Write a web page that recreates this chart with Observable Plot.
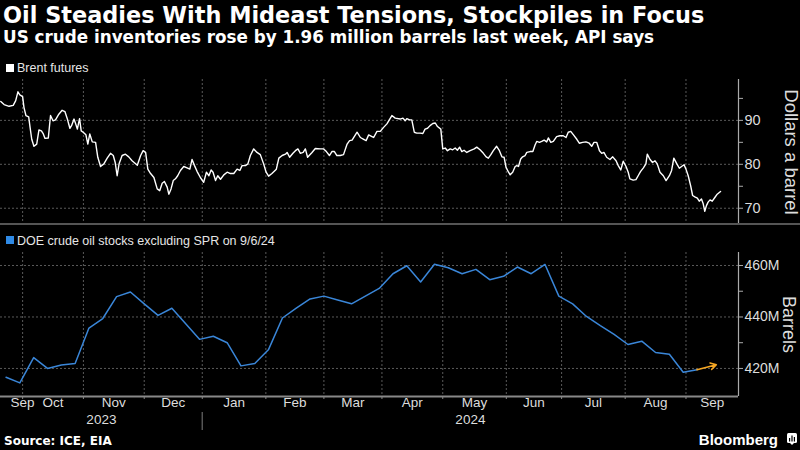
<!DOCTYPE html>
<html><head><meta charset="utf-8">
<script src="https://cdn.jsdelivr.net/npm/d3@7"></script>
<script src="https://cdn.jsdelivr.net/npm/@observablehq/plot@0.6"></script>
<style>
html,body{margin:0;padding:0;background:#000;}
body{width:800px;height:450px;position:relative;overflow:hidden;font-family:"Liberation Sans",Arial,sans-serif;color:#fff;}
.abs{position:absolute;white-space:nowrap;}
#title{left:3px;top:0px;font:bold 22.4px "DejaVu Sans",sans-serif;line-height:30px;color:#fff;}
#subtitle{left:3px;top:27px;font:bold 16.8px "DejaVu Sans",sans-serif;line-height:20px;color:#fff;}
.leg{left:17px;font:12.5px "Liberation Sans",Arial,sans-serif;line-height:14px;color:#e6e6e6;}
.sq{width:8px;height:8px;left:6px;}
#sep{left:0;top:223px;width:800px;height:2px;background:#555;}
#source{left:4px;top:434px;font:bold 12px "DejaVu Sans",sans-serif;line-height:14px;color:#fff;}
#bbg{right:22px;top:431px;font:bold 15px "Liberation Sans",Arial,sans-serif;line-height:17px;color:#fff;}
#icon{left:787px;top:433px;}
</style></head>
<body>
<div id="title" class="abs">Oil Steadies With Mideast Tensions, Stockpiles in Focus</div>
<div id="subtitle" class="abs">US crude inventories rose by 1.96 million barrels last week, API says</div>
<div class="abs sq" style="top:64px;background:#fff"></div>
<div id="leg1" class="abs leg" style="top:61px">Brent futures</div>
<div id="panelTop" class="abs" style="left:0;top:76px"></div>
<div id="sep" class="abs"></div>
<div class="abs sq" style="top:236px;background:#2f8ae6"></div>
<div id="leg2" class="abs leg" style="top:234px">DOE crude oil stocks excluding SPR on 9/6/24</div>
<div id="panelBottom" class="abs" style="left:0;top:249px"></div>
<div id="source" class="abs">Source: ICE, EIA</div>
<div id="bbg" class="abs">Bloomberg</div>
<svg id="icon" class="abs" width="10" height="12" viewBox="0 0 10 12"><rect x="0" y="0" width="10" height="10" rx="1.5" fill="#fff"/><path d="M3 10 L5 12 L7 10Z" fill="#fff"/><rect x="2" y="5" width="1.2" height="3.5" fill="#000"/><rect x="4.4" y="2.5" width="1.2" height="6" fill="#000"/><rect x="6.8" y="4" width="1.2" height="4.5" fill="#000"/></svg>
<script>
// ---------- DATA ----------
// Brent futures: trading days after 2023-09-18 (Mon) and price in $/bbl
const brentDay = [2.1,3.3,5.1,6.6,7.5,8.3,9.0,10.0,10.5,11.2,12.2,12.7,13.3,14.1,15.1,15.9,16.8,17.5,18.1,19.3,20.1,21.0,21.9,23.1,24.3,25.3,26.1,27.1,27.7,28.6,29.2,29.8,30.6,31.2,31.9,32.9,33.6,34.3,35.2,36.4,37.2,38.2,39.4,40.6,41.8,42.8,43.5,44.2,44.9,46.0,47.2,48.4,49.6,51.5,52.7,53.6,54.5,55.3,56.3,57.5,58.7,59.6,60.5,61.3,62.3,62.9,63.7,64.5,65.3,66.1,67.1,68.3,69.5,70.5,71.3,72.2,73.1,74.3,75.5,76.5,77.4,78.2,78.9,79.8,80.6,81.6,82.8,84.0,85.2,86.4,87.6,88.6,89.4,90.6,91.5,92.4,93.6,94.8,96.0,97.2,98.1,99.0,100.2,101.8,102.7,103.9,105.1,105.7,106.6,107.8,108.7,109.6,110.5,111.5,112.3,113.1,114.7,115.9,117.7,118.9,119.9,121.0,121.9,122.8,123.7,124.9,126.1,127.4,128.3,129.2,131.0,132.2,133.4,134.3,135.2,136.4,137.0,138.2,139.4,140.6,141.8,143.6,144.8,146.6,147.6,148.4,149.0,150.0,150.8,151.7,152.6,153.8,154.8,155.6,156.5,157.4,158.4,159.3,160.1,161.3,162.0,162.9,163.7,164.7,165.6,166.5,167.3,168.1,168.9,169.7,170.7,171.9,173.4,174.3,175.5,176.7,177.7,178.5,179.4,180.3,181.5,182.5,183.4,184.2,184.9,185.8,186.4,187.3,188.2,188.8,189.4,190.2,190.9,191.8,192.4,193.6,194.6,195.4,196.0,197.0,197.8,198.7,199.6,200.2,201.1,202.0,203.2,204.4,205.6,206.6,207.4,208.3,209.3,210.5,211.4,212.6,213.8,215.0,215.9,216.7,217.7,218.7,219.5,220.3,221.3,222.5,223.5,224.7,225.5,226.4,227.3,228.3,229.1,229.7,230.9,231.9,232.7,233.6,234.6,235.5,236.0,237.0,237.9,238.8,239.6,240.6,241.8,242.8,244.0,244.8,245.6,246.6,247.6,248.4,249.3,250.0,250.8,251.7,252.4,253.2,254.1,254.8,255.6,256.2,256.8,257.4,258.0,258.7,259.5,260.5,261.3,262.5];
const brentPrice = [94.3,93.6,93.2,93.4,94.5,96.5,95.8,95.4,92.9,91.1,90.8,88.4,85.7,84.1,84.6,87.8,87.6,86.9,85.9,86.0,91.1,89.9,90.1,91.4,92.3,92.0,90.5,88.2,88.8,90.3,89.2,88.0,90.4,87.6,87.3,86.7,84.6,86.9,85.1,85.0,81.6,79.5,80.1,81.4,82.5,82.0,80.4,77.4,80.1,82.0,82.3,81.7,80.8,79.8,82.0,83.1,82.7,78.9,77.9,77.0,74.4,74.0,75.7,76.1,74.8,73.2,74.4,76.3,76.7,77.4,78.6,79.5,79.2,78.9,81.1,79.7,78.4,77.0,75.9,78.2,77.4,78.7,78.2,76.3,77.4,76.6,77.6,78.2,77.9,77.9,78.9,78.6,79.7,79.7,80.1,82.0,83.5,82.7,82.2,80.1,78.2,77.3,77.9,78.9,81.4,82.0,82.3,82.7,81.6,82.5,83.1,83.5,82.5,82.7,83.5,81.6,82.7,83.6,83.5,83.5,82.9,82.0,82.9,82.9,82.0,82.0,82.2,84.6,85.4,85.5,87.3,86.1,85.7,85.4,86.7,86.3,86.1,87.5,87.5,88.4,89.2,91.1,90.5,90.3,90.5,89.9,90.4,90.1,90.1,87.3,87.1,87.1,87.0,88.0,88.2,88.8,89.3,89.4,88.6,88.0,83.5,83.7,83.1,83.5,83.3,83.7,83.2,83.9,82.9,83.2,82.7,83.1,83.5,83.9,83.3,82.5,81.7,81.4,82.2,83.1,84.1,83.1,81.7,81.6,79.3,78.2,77.6,78.2,79.5,79.7,79.5,81.2,81.7,82.0,82.7,82.9,82.9,84.4,85.2,85.0,85.2,85.5,85.1,86.0,85.0,85.2,86.3,86.5,86.5,86.1,87.3,87.5,86.7,85.7,84.8,85.0,85.1,84.8,84.1,85.0,85.0,83.1,82.5,82.7,81.6,81.1,81.7,80.8,79.7,78.7,80.7,79.5,78.2,76.7,76.4,76.5,77.4,78.4,79.2,80.1,82.3,81.1,80.4,80.8,80.1,78.2,77.4,76.3,77.4,78.6,81.4,80.2,79.1,79.5,79.9,78.9,77.4,75.1,72.9,72.6,72.3,71.6,72.1,71.1,69.3,70.6,71.4,71.9,71.6,72.5,73.2,73.8];

// DOE crude oil stocks ex-SPR, weekly (week ending Fridays 2023-09-22 .. 2024-09-06), million barrels
const doeFirstWeek = "2023-09-22";
const doeLastWeek = "2024-09-06";
const doeStocks = [416.6,414.4,424.2,420.0,421.3,421.9,435.7,439.4,447.9,449.7,445.1,440.6,443.4,437.4,431.3,432.5,430.0,421.0,421.9,427.4,439.6,443.4,447.0,448.1,446.6,445.1,448.1,451.1,456.8,459.9,453.6,460.5,459.1,456.8,458.5,454.5,455.8,459.4,456.8,460.4,448.1,445.1,440.2,436.6,433.2,429.3,430.6,426.2,425.5,418.5,419.5];
// API reported build (million barrels) and report date
const apiChange = 1.96;
const apiDate = "2024-09-17";

// Axis / tick definitions
const axisStart = "2023-09-20", axisEnd = "2024-09-27";
const monthFirsts = ["2023-09-01","2023-10-01","2023-11-01","2023-12-01","2024-01-01","2024-02-01","2024-03-01","2024-04-01","2024-05-01","2024-06-01","2024-07-01","2024-08-01","2024-09-01","2024-10-01"];
const monthLabels = ["Sep","Oct","Nov","Dec","Jan","Feb","Mar","Apr","May","Jun","Jul","Aug","Sep"];
const yearFirsts = ["2023-01-01","2024-01-01","2025-01-01"];
const yearLabels = ["2023","2024"];
const brentTicks = [70,75,80,85,90,95];
const brentTickLabels = [70,80,90];
const brentYDomain = [66.3, 99.3];
const doeTicks = [420,430,440,450,460];
const doeTickLabels = [420,440,460];
const doeYDomain = [409.1, 465.05];

// ---------- helpers ----------
const parseDay = d3.timeParse("%Y-%m-%d");
const tStart = parseDay("2023-09-18");
function tradingDay(date) {
  let n = 0;
  const d = new Date(tStart.getTime());
  while (d < date) {
    const w = d.getDay();
    if (w !== 0 && w !== 6) n++;
    d.setDate(d.getDate() + 1);
  }
  return n;
}
const xDomain = [tradingDay(parseDay(axisStart)), tradingDay(parseDay(axisEnd))];
const clampX = v => Math.max(xDomain[0], Math.min(xDomain[1], v));
const monthBounds = monthFirsts.map(s => clampX(tradingDay(parseDay(s))));
const gridDays = monthBounds.slice(1, monthBounds.length - 1);
const monthMarks = monthLabels.map((label, i) => ({label, mid: (monthBounds[i] + monthBounds[i + 1]) / 2, start: monthBounds[i]}));
const yearBounds = yearFirsts.map(s => clampX(tradingDay(parseDay(s))));
const yearMarks = yearLabels.map((label, i) => ({label, mid: (yearBounds[i] + yearBounds[i + 1]) / 2}));

const brentData = brentDay.map((d, i) => ({day: d, price: brentPrice[i]}));
const doeWeeks = d3.timeFriday.range(parseDay(doeFirstWeek), d3.timeDay.offset(parseDay(doeLastWeek), 1));
const doeData = doeWeeks.map((w, i) => ({day: tradingDay(w), stocks: doeStocks[i]}));
const lastDoe = doeData[doeData.length - 1];
const apiArrow = [{x1: lastDoe.day, y1: lastDoe.stocks, x2: tradingDay(parseDay(apiDate)), y2: lastDoe.stocks + apiChange}];

const GRID = {stroke: "#5a5a5a", strokeDasharray: "2,2", strokeWidth: 1};
const baseStyle = {background: "transparent", color: "#ddd", fontFamily: "'Liberation Sans', Arial, sans-serif", fontSize: "13px", overflow: "visible"};

// ---------- top panel ----------
const chart1 = Plot.plot({
  width: 800, height: 150,
  marginTop: 3, marginBottom: 2, marginLeft: 0, marginRight: 62,
  x: {type: "linear", domain: xDomain, axis: null},
  y: {domain: brentYDomain},
  style: baseStyle,
  marks: [
    Plot.ruleY(brentTickLabels, GRID),
    Plot.ruleX(gridDays, GRID),
    Plot.ruleX([xDomain[1]], {stroke: "#aaa", strokeWidth: 1.2}),
    Plot.axisY(brentTicks, {anchor: "right", tickSize: 4, tickPadding: 2, label: null,
      tickFormat: d => brentTickLabels.includes(d) ? String(d) : "",
      stroke: "#aaa", fill: "#ddd", fontSize: 14.5}),
    Plot.line(brentData, {x: "day", y: "price", stroke: "#fff", strokeWidth: 1.4}),
    Plot.text(["Dollars a barrel"], {text: d => d, frameAnchor: "right", textAnchor: "middle", rotate: 90, dx: 52, fill: "#ddd", fontSize: 18.5})
  ]
});
document.getElementById("panelTop").appendChild(chart1);

// ---------- bottom panel ----------
const chart2 = Plot.plot({
  width: 800, height: 183,
  marginTop: 3, marginBottom: 36, marginLeft: 0, marginRight: 62,
  x: {type: "linear", domain: xDomain},
  y: {domain: doeYDomain},
  style: baseStyle,
  marks: [
    Plot.ruleY(doeTickLabels, GRID),
    Plot.ruleX(gridDays, GRID),
    Plot.ruleX([xDomain[1]], {stroke: "#aaa", strokeWidth: 1.2}),
    Plot.ruleY([doeYDomain[0]], {stroke: "#888", strokeWidth: 2}),
    Plot.axisX(gridDays, {anchor: "bottom", tickSize: 3, tickFormat: () => "", stroke: "#888", label: null}),
    Plot.text(monthMarks.slice(1), {x: "mid", text: "label", frameAnchor: "bottom", textAnchor: "middle", dy: 10, fill: "#ddd", fontSize: 13.5}),
    Plot.text(monthMarks.slice(0, 1), {x: "start", text: "label", frameAnchor: "bottom", dy: 10, dx: 10, textAnchor: "start", fill: "#ddd", fontSize: 13.5}),
    Plot.text(yearMarks, {x: "mid", text: "label", frameAnchor: "bottom", textAnchor: "middle", dy: 27, fill: "#ddd", fontSize: 13.5}),
    Plot.ruleX([yearBounds[1]], {stroke: "#555", strokeWidth: 1.5, insetTop: 126, dy: 34}),
    Plot.axisY(doeTicks, {anchor: "right", tickSize: 4, tickPadding: 2, label: null,
      tickFormat: d => doeTickLabels.includes(d) ? d + "M" : "",
      stroke: "#aaa", fill: "#ddd", fontSize: 14}),
    Plot.line(doeData, {x: "day", y: "stocks", stroke: "#3a86d8", strokeWidth: 1.5}),
    Plot.arrow(apiArrow, {x1: "x1", y1: "y1", x2: "x2", y2: "y2", stroke: "#f5a623", strokeWidth: 1.5, headLength: 9}),
    Plot.text(["Barrels"], {text: d => d, frameAnchor: "right", textAnchor: "middle", rotate: 90, dx: 50, fill: "#ddd", fontSize: 18})
  ]
});
document.getElementById("panelBottom").appendChild(chart2);
</script>
</body></html>
